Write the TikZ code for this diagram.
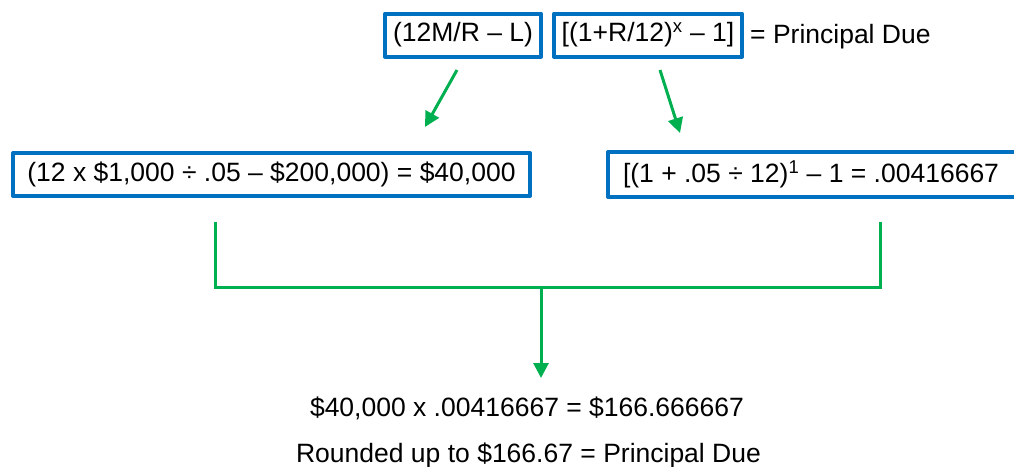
\documentclass[tikz,border=0pt]{standalone}
\usepackage{fontspec}
\setmainfont{Liberation Sans}
\usetikzlibrary{arrows.meta}
\definecolor{boxblue}{HTML}{0070C0}
\definecolor{flowgreen}{HTML}{00B050}
\begin{document}
\begin{tikzpicture}[x=1pt,y=-1pt,
  box/.style={draw=boxblue, line width=4pt, line join=round, minimum height=43pt, inner xsep=4pt, font=\fontsize{26.5}{31}\selectfont},
  txt/.style={inner sep=0pt, font=\fontsize{26.5}{31}\selectfont},
  flow/.style={draw=flowgreen, line width=3pt},
  flowarrow/.style={flow, -{Triangle[length=15pt,width=15pt]}}]
\useasboundingbox (0,0) rectangle (1014,466);
\node[box, minimum width=156pt] (rml) at (463,35) {(12M/R -- L)};
\node[box, minimum width=188pt] (rate) at (648,35) {[(1+R/12)\textsuperscript{x} -- 1]};
\node[txt, anchor=base west] (due) at (750,43) {= Principal Due};
\node[box, minimum width=517pt] (left) at (271.5,174.5) {(12 x \$1,000 ÷ .05 -- \$200,000) = \$40,000};
\node[box, anchor=west, inner xsep=15pt, minimum height=45pt] (right) at (606,174.5) {\makebox[392pt][l]{[(1 + .05 ÷ 12)\textsuperscript{1} -- 1 = .00416667}};
\node[txt, anchor=base] (calc) at (527,416) {\$40,000 x .00416667 = \$166.666667};
\node[txt, anchor=base] (rnd) at (528.5,462) {Rounded up to \$166.67 = Principal Due};
\coordinate (a1) at (457,70);
\coordinate (a1e) at (425,127);
\coordinate (a2) at (660,70);
\coordinate (a2e) at (680,133);
\coordinate (bl) at (215,222);
\coordinate (br) at (880,222);
\coordinate (bm) at (541,287);
\coordinate (tip) at (541,378);
\draw[flowarrow] (a1) -- (a1e);
\draw[flowarrow] (a2) -- (a2e);
\draw[flow] (bl) |- (bm) -| (br);
\draw[flowarrow] (bm) -- (tip);
\end{tikzpicture}
\end{document}
